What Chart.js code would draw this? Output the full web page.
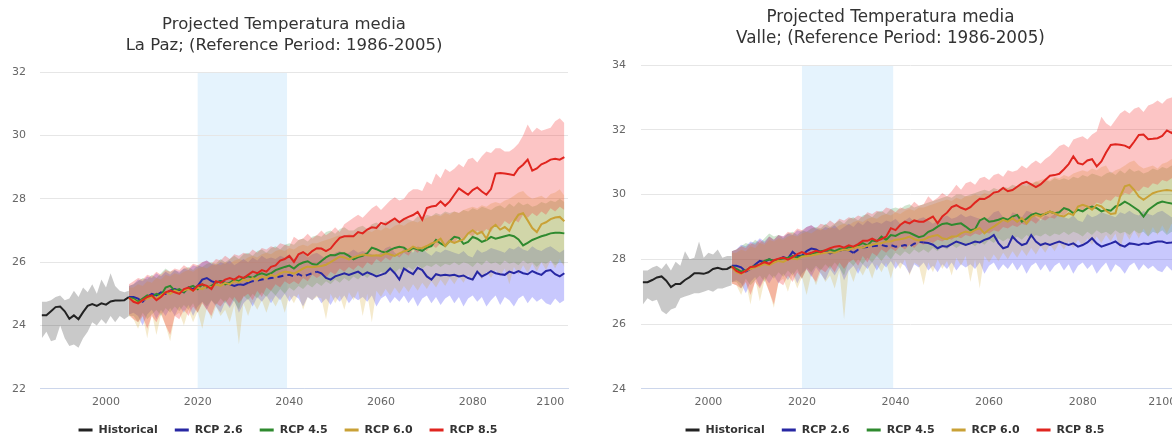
<!DOCTYPE html>
<html lang="es">
<head>
<meta charset="utf-8">
<title>Projected Temperatura media</title>
<script src="https://cdn.jsdelivr.net/npm/chart.js@4.4.1/dist/chart.umd.min.js"></script>
<style>
  html, body { margin: 0; padding: 0; background: #fff; }
  body { width: 1172px; height: 437px; overflow: hidden; position: relative; }
  .panel { position: absolute; top: 0; height: 437px; }
  #panelLaPaz { left: 0; width: 580px; }
  #panelValle { left: 601px; width: 591px; }
</style>
</head>
<body>
<div class="panel" id="panelLaPaz"><canvas id="chartLaPaz" width="580" height="437"></canvas></div>
<div class="panel" id="panelValle"><canvas id="chartValle" width="591" height="437"></canvas></div>
<script>
// ---- Year ranges and axis ticks shared by both charts ----
const HIST_FIRST = 1986, HIST_LAST = 2005;
const RCP_FIRST = 2005, RCP_LAST = 2100;   // projections start from the last observed year
const X_TICKS = [2000, 2020, 2040, 2060, 2080, 2100];
const REFERENCE_WINDOW = [2020, 2039.5];
const SERIES_NAMES = ['Historical', 'RCP 2.6', 'RCP 4.5', 'RCP 6.0', 'RCP 8.5'];

// ---- La Paz (°C) ----
const lpHistMean = [24.32, 24.32, 24.45, 24.58, 24.60, 24.45, 24.21, 24.32, 24.20, 24.42,
                    24.62, 24.68, 24.62, 24.70, 24.66, 24.76, 24.79, 24.79, 24.80, 24.90];
const lpHistHigh = [24.75, 24.75, 24.80, 24.90, 24.95, 24.80, 24.85, 25.10, 24.90, 25.20,
                    25.05, 25.30, 25.00, 25.45, 25.20, 25.65, 25.25, 25.10, 25.05, 25.10];
const lpHistLow  = [23.60, 23.80, 23.50, 23.55, 24.00, 23.60, 23.35, 23.40, 23.30, 23.60,
                    23.80, 24.10, 24.00, 24.20, 24.05, 24.30, 24.10, 24.30, 24.20, 24.30];

const lpRcp26Mean = [24.90,
                     24.90, 24.85, 24.75, 24.90, 25.00, 24.95, 25.05, 25.00, 25.10, 25.15,
                     25.10, 25.05, 25.20, 25.15, 25.25, 25.45, 25.50, 25.40, 25.35, 25.40,
                     25.35, 25.30, 25.25, 25.30, 25.28, 25.35, 25.40, 25.42, 25.45, 25.48,
                     25.50, 25.52, 25.55, 25.58, 25.60, 25.55, 25.62, 25.55, 25.60, 25.65,
                     25.70, 25.65, 25.50, 25.45, 25.55, 25.60, 25.65, 25.60, 25.65, 25.70,
                     25.60, 25.68, 25.62, 25.55, 25.60, 25.65, 25.80, 25.65, 25.45, 25.80,
                     25.70, 25.62, 25.82, 25.75, 25.55, 25.45, 25.62, 25.58, 25.60, 25.58,
                     25.60, 25.55, 25.58, 25.50, 25.45, 25.70, 25.55, 25.62, 25.72, 25.65,
                     25.62, 25.60, 25.70, 25.65, 25.72, 25.65, 25.62, 25.72, 25.65, 25.60,
                     25.72, 25.75, 25.62, 25.55, 25.65];
const lpRcp26High = [25.25,
                     25.30, 25.45, 25.40, 25.55, 25.50, 25.65, 25.55, 25.70, 25.60, 25.75,
                     25.70, 25.80, 25.75, 25.90, 25.85, 26.00, 26.05, 25.95, 25.90, 26.00,
                     25.95, 26.05, 25.90, 26.00, 26.10, 26.00, 26.15, 26.05, 26.20, 26.10,
                     26.15, 26.10, 26.20, 26.15, 26.25, 26.10, 26.20, 26.30, 26.15, 26.25,
                     26.30, 26.20, 26.10, 26.20, 26.30, 26.35, 26.25, 26.30, 26.40, 26.30,
                     26.35, 26.30, 26.25, 26.20, 26.30, 26.45, 26.50, 26.30, 26.20, 26.45,
                     26.40, 26.30, 26.50, 26.45, 26.30, 26.20, 26.35, 26.30, 26.40, 26.35,
                     26.30, 26.25, 26.35, 26.20, 26.15, 26.40, 26.30, 26.35, 26.45, 26.40,
                     26.35, 26.30, 26.45, 26.40, 26.50, 26.40, 26.35, 26.50, 26.40, 26.35,
                     26.45, 26.50, 26.40, 26.30, 26.40];
const lpRcp26Low  = [24.35,
                     24.40, 24.30, 24.00, 24.35, 24.50, 24.20, 24.50, 24.30, 24.55, 24.30,
                     24.60, 24.40, 24.65, 24.30, 24.60, 24.75, 24.50, 24.80, 24.60, 24.40,
                     24.75, 24.55, 24.80, 24.40, 24.70, 24.85, 24.60, 24.90, 24.75, 24.95,
                     24.70, 24.95, 24.80, 25.00, 24.75, 24.95, 24.85, 24.60, 24.90, 24.80,
                     24.95, 24.70, 24.85, 24.65, 24.90, 24.75, 24.95, 24.70, 24.90, 24.80,
                     24.90, 24.75, 24.95, 24.60, 24.85, 24.95, 24.70, 24.90, 24.75, 24.95,
                     24.70, 24.90, 24.60, 24.85, 24.95, 24.70, 24.90, 24.65, 24.85, 24.95,
                     24.70, 24.90, 24.60, 24.85, 24.95, 24.75, 24.90, 24.60, 24.80, 24.95,
                     24.65, 24.90, 24.80, 24.60, 24.85, 24.95, 24.70, 24.90, 24.75, 24.85,
                     24.70, 24.65, 24.85, 24.70, 24.80];

const lpRcp45Mean = [24.88,
                     24.85, 24.75, 24.85, 24.95, 24.90, 25.00, 24.95, 25.20, 25.25, 25.10,
                     25.15, 25.05, 25.20, 25.25, 25.15, 25.30, 25.20, 25.25, 25.35, 25.40,
                     25.30, 25.35, 25.45, 25.40, 25.50, 25.55, 25.50, 25.60, 25.65, 25.60,
                     25.65, 25.75, 25.80, 25.85, 25.89, 25.80, 25.92, 25.99, 26.03, 25.94,
                     25.92, 26.04, 26.15, 26.23, 26.22, 26.28, 26.28, 26.20, 26.09, 26.16,
                     26.20, 26.28, 26.46, 26.41, 26.34, 26.30, 26.39, 26.45, 26.49, 26.46,
                     26.35, 26.45, 26.41, 26.36, 26.46, 26.51, 26.70, 26.59, 26.51, 26.67,
                     26.80, 26.77, 26.58, 26.64, 26.80, 26.74, 26.64, 26.70, 26.80, 26.74,
                     26.78, 26.82, 26.86, 26.82, 26.72, 26.53, 26.61, 26.70, 26.76, 26.82,
                     26.86, 26.91, 26.93, 26.93, 26.91];
const lpRcp45High = [25.25,
                     25.30, 25.40, 25.50, 25.45, 25.60, 25.50, 25.65, 25.80, 25.70, 25.75,
                     25.65, 25.80, 25.85, 25.75, 25.90, 25.85, 25.95, 26.00, 25.95, 26.10,
                     26.00, 26.10, 26.20, 26.10, 26.25, 26.30, 26.20, 26.35, 26.40, 26.30,
                     26.45, 26.50, 26.40, 26.55, 26.60, 26.55, 26.70, 26.75, 26.65, 26.80,
                     26.85, 26.80, 26.95, 27.00, 26.90, 27.05, 27.10, 27.00, 27.00, 27.10,
                     27.15, 27.05, 27.20, 27.25, 27.15, 27.30, 27.25, 27.35, 27.30, 27.40,
                     27.35, 27.30, 27.45, 27.40, 27.50, 27.45, 27.55, 27.50, 27.60, 27.55,
                     27.60, 27.55, 27.65, 27.60, 27.70, 27.65, 27.75, 27.70, 27.65, 27.75,
                     27.80, 27.70, 27.85, 27.75, 27.90, 27.80, 27.85, 27.75, 27.80, 27.90,
                     27.85, 27.95, 27.90, 28.00, 27.90];
const lpRcp45Low  = [24.30,
                     24.30, 24.10, 24.40, 24.20, 24.35, 24.50, 24.30, 24.55, 24.40, 24.60,
                     24.45, 24.65, 24.50, 24.70, 24.40, 24.75, 24.60, 24.80, 24.65, 24.85,
                     24.70, 24.90, 24.75, 24.50, 24.95, 24.80, 25.00, 24.85, 25.05, 24.90,
                     25.10, 24.95, 25.15, 25.00, 25.20, 25.10, 25.25, 25.15, 25.30, 25.20,
                     25.35, 25.25, 25.40, 25.30, 25.45, 25.35, 25.50, 25.40, 25.55, 25.45,
                     25.60, 25.50, 25.65, 25.55, 25.70, 25.60, 25.75, 25.65, 25.80, 25.70,
                     25.85, 25.75, 25.90, 25.80, 25.90, 25.85, 25.95, 25.85, 25.95, 25.90,
                     26.00, 25.90, 26.00, 25.95, 25.85, 26.00, 25.90, 26.05, 25.95, 26.00,
                     25.90, 26.05, 25.95, 26.00, 25.90, 26.05, 25.95, 26.00, 25.85, 26.00,
                     25.95, 26.05, 25.90, 26.00, 25.95];

const lpRcp60Mean = [24.85,
                     24.80, 24.70, 24.80, 24.85, 24.90, 24.85, 24.95, 25.05, 25.00, 25.10,
                     25.05, 25.10, 25.15, 25.10, 25.20, 25.15, 25.25, 25.20, 25.30, 25.25,
                     25.35, 25.30, 25.40, 25.35, 25.45, 25.40, 25.50, 25.45, 25.55, 25.50,
                     25.60, 25.55, 25.65, 25.70, 25.68, 25.64, 25.72, 25.80, 25.86, 25.84,
                     25.86, 25.88, 25.92, 26.00, 26.09, 26.18, 26.15, 26.09, 26.15, 26.20,
                     26.24, 26.22, 26.20, 26.22, 26.20, 26.28, 26.24, 26.20, 26.28, 26.34,
                     26.39, 26.49, 26.43, 26.45, 26.51, 26.59, 26.64, 26.74, 26.51, 26.67,
                     26.61, 26.67, 26.72, 26.91, 27.01, 26.89, 26.96, 26.74, 27.07, 27.18,
                     27.03, 27.11, 26.99, 27.29, 27.50, 27.55, 27.32, 27.08, 26.95, 27.20,
                     27.26, 27.36, 27.41, 27.43, 27.29];
const lpRcp60High = [25.20,
                     25.20, 25.30, 25.25, 25.40, 25.35, 25.50, 25.45, 25.60, 25.55, 25.65,
                     25.60, 25.70, 25.75, 25.70, 25.80, 25.85, 25.80, 25.90, 25.95, 25.90,
                     26.00, 25.95, 26.05, 26.10, 26.05, 26.15, 26.20, 26.15, 26.25, 26.30,
                     26.25, 26.35, 26.40, 26.35, 26.45, 26.40, 26.50, 26.55, 26.50, 26.60,
                     26.60, 26.65, 26.70, 26.75, 26.80, 26.85, 26.80, 26.90, 26.85, 26.95,
                     26.95, 27.00, 26.95, 27.05, 27.00, 27.10, 27.05, 27.15, 27.20, 27.15,
                     27.25, 27.30, 27.25, 27.35, 27.40, 27.45, 27.50, 27.45, 27.55, 27.50,
                     27.60, 27.55, 27.65, 27.70, 27.75, 27.70, 27.80, 27.75, 27.85, 27.90,
                     27.85, 27.95, 28.00, 28.10, 28.20, 28.25, 28.10, 28.00, 28.05, 28.10,
                     28.00, 28.15, 28.20, 28.30, 28.10];
const lpRcp60Low  = [24.30,
                     24.20, 23.90, 24.30, 23.60, 24.40, 23.70, 24.35, 24.00, 23.50, 24.30,
                     24.40, 24.00, 24.50, 24.10, 24.45, 23.90, 24.55, 24.20, 24.60, 24.30,
                     24.50, 24.10, 24.65, 23.40, 24.70, 24.30, 24.75, 24.50, 24.80, 24.40,
                     24.85, 24.60, 24.90, 24.40, 24.95, 24.70, 25.00, 24.50, 24.90, 24.80,
                     24.90, 24.85, 24.20, 25.00, 24.70, 24.95, 24.50, 25.05, 24.80, 25.10,
                     24.30, 25.00, 24.10, 25.10, 24.90, 25.15, 24.95, 25.20, 25.00, 25.25,
                     25.05, 25.30, 25.10, 25.35, 25.15, 25.40, 25.20, 25.45, 25.25, 25.50,
                     25.30, 25.55, 25.35, 25.60, 25.40, 25.65, 25.45, 25.70, 25.50, 25.75,
                     25.55, 25.80, 25.30, 25.85, 25.60, 25.90, 25.65, 25.95, 25.70, 26.00,
                     25.75, 26.05, 25.80, 26.10, 25.85];

const lpRcp85Mean = [24.88,
                     24.75, 24.70, 24.80, 24.90, 24.95, 24.80, 24.90, 25.05, 25.10, 25.05,
                     25.00, 25.15, 25.20, 25.10, 25.25, 25.30, 25.25, 25.15, 25.40, 25.35,
                     25.45, 25.50, 25.45, 25.55, 25.50, 25.60, 25.70, 25.65, 25.75, 25.70,
                     25.85, 25.90, 26.05, 26.10, 26.20, 26.01, 26.25, 26.32, 26.22, 26.35,
                     26.44, 26.43, 26.35, 26.43, 26.61, 26.77, 26.82, 26.82, 26.82, 26.95,
                     26.91, 27.03, 27.10, 27.08, 27.24, 27.19, 27.29, 27.38, 27.26, 27.36,
                     27.43, 27.49, 27.59, 27.34, 27.71, 27.76, 27.78, 27.92, 27.78, 27.92,
                     28.13, 28.33, 28.23, 28.13, 28.28, 28.36, 28.23, 28.13, 28.31, 28.80,
                     28.82, 28.80, 28.78, 28.75, 28.96, 29.08, 29.24, 28.89, 28.96, 29.09,
                     29.15, 29.24, 29.27, 29.24, 29.32];
const lpRcp85High = [25.30,
                     25.40, 25.50, 25.45, 25.60, 25.55, 25.70, 25.60, 25.75, 25.70, 25.80,
                     25.75, 25.90, 25.80, 25.95, 25.90, 26.00, 26.05, 25.95, 26.10, 26.05,
                     26.20, 26.10, 26.25, 26.20, 26.30, 26.25, 26.40, 26.30, 26.45, 26.40,
                     26.50, 26.45, 26.60, 26.55, 26.50, 26.80, 26.70, 26.75, 26.90, 26.75,
                     26.85, 27.00, 26.85, 26.95, 27.10, 26.95, 27.20, 27.30, 27.40, 27.50,
                     27.40, 27.55, 27.70, 27.80, 27.65, 27.80, 27.95, 28.05, 27.95, 28.00,
                     28.20, 28.30, 28.30, 28.25, 28.55, 28.45, 28.80, 28.65, 28.95, 28.85,
                     28.95, 29.10, 29.00, 29.25, 29.30, 29.15, 29.35, 29.50, 29.45, 29.60,
                     29.60, 29.50, 29.50, 29.60, 29.75, 30.00, 30.35, 30.10, 30.25, 30.15,
                     30.20, 30.25, 30.45, 30.55, 30.40];
const lpRcp85Low  = [24.35,
                     24.20, 24.10, 24.30, 23.90, 24.30, 24.10, 24.40, 24.00, 23.70, 24.30,
                     24.20, 24.50, 24.30, 24.60, 24.40, 24.70, 24.50, 24.30, 24.70, 24.60,
                     24.80, 24.60, 24.90, 24.70, 24.90, 25.00, 24.80, 25.10, 24.90, 25.20,
                     25.10, 25.30, 25.20, 25.40, 25.30, 25.40, 25.30, 25.50, 25.40, 25.60,
                     25.50, 25.60, 25.50, 25.70, 25.60, 25.80, 25.70, 25.85, 25.75, 25.90,
                     25.80, 26.00, 25.90, 26.10, 26.00, 26.15, 26.05, 26.25, 26.15, 26.30,
                     26.20, 26.40, 26.30, 26.45, 26.35, 26.55, 26.45, 26.60, 26.50, 26.70,
                     26.60, 26.80, 26.70, 26.90, 26.80, 27.00, 26.90, 27.05, 26.95, 27.20,
                     27.10, 27.30, 27.20, 27.35, 27.25, 27.50, 27.40, 27.55, 27.45, 27.60,
                     27.50, 27.70, 27.60, 27.75, 27.65];

// ---- Valle (°C) ----
const vaHistMean = [27.29, 27.29, 27.36, 27.44, 27.47, 27.34, 27.14, 27.24, 27.24, 27.36,
                    27.45, 27.57, 27.57, 27.55, 27.60, 27.70, 27.74, 27.69, 27.70, 27.78];
const vaHistHigh = [27.65, 27.65, 27.75, 27.80, 27.70, 27.88, 27.65, 27.92, 27.80, 28.25,
                    28.00, 28.05, 28.55, 28.05, 28.20, 28.15, 28.30, 28.05, 28.10, 28.10];
const vaHistLow  = [26.60, 26.80, 26.70, 26.75, 26.40, 26.30, 26.45, 26.50, 26.80, 26.85,
                    26.90, 26.95, 26.95, 27.00, 27.05, 27.00, 27.10, 27.10, 27.15, 27.20];

const vaRcp26Mean = [27.80,
                     27.80, 27.75, 27.62, 27.70, 27.84, 27.95, 27.92, 28.00, 27.95, 28.00,
                     28.07, 28.02, 28.23, 28.10, 28.12, 28.25, 28.33, 28.30, 28.22, 28.26,
                     28.18, 28.24, 28.26, 28.30, 28.28, 28.20, 28.30, 28.36, 28.38, 28.40,
                     28.42, 28.44, 28.40, 28.44, 28.39, 28.40, 28.44, 28.39, 28.48, 28.54,
                     28.52, 28.50, 28.45, 28.34, 28.41, 28.39, 28.47, 28.55, 28.50, 28.44,
                     28.49, 28.55, 28.52, 28.60, 28.65, 28.75, 28.50, 28.34, 28.39, 28.70,
                     28.55, 28.44, 28.49, 28.75, 28.55, 28.44, 28.49, 28.44, 28.50, 28.55,
                     28.49, 28.44, 28.49, 28.39, 28.44, 28.52, 28.65, 28.49, 28.39, 28.44,
                     28.49, 28.55, 28.44, 28.39, 28.49, 28.47, 28.44, 28.49, 28.47, 28.52,
                     28.55, 28.55, 28.50, 28.52, 28.55];
const vaRcp26High = [28.25,
                     28.30, 28.45, 28.40, 28.55, 28.50, 28.65, 28.55, 28.70, 28.60, 28.75,
                     28.70, 28.80, 28.75, 28.90, 28.85, 29.00, 29.05, 28.95, 28.90, 29.00,
                     28.95, 29.05, 28.90, 29.00, 29.10, 29.00, 29.15, 29.05, 29.20, 29.10,
                     29.15, 29.10, 29.20, 29.15, 29.25, 29.10, 29.20, 29.30, 29.15, 29.25,
                     29.30, 29.20, 29.10, 29.20, 29.30, 29.35, 29.25, 29.30, 29.40, 29.30,
                     29.35, 29.30, 29.25, 29.20, 29.30, 29.45, 29.50, 29.30, 29.20, 29.45,
                     29.40, 29.30, 29.50, 29.45, 29.30, 29.20, 29.35, 29.30, 29.40, 29.35,
                     29.30, 29.25, 29.35, 29.20, 29.15, 29.40, 29.30, 29.35, 29.45, 29.40,
                     29.35, 29.30, 29.45, 29.40, 29.50, 29.40, 29.35, 29.50, 29.40, 29.35,
                     29.45, 29.50, 29.40, 29.30, 29.40];
const vaRcp26Low  = [27.30,
                     27.35, 27.25, 26.95, 27.30, 27.45, 27.15, 27.45, 27.25, 27.50, 27.25,
                     27.55, 27.35, 27.60, 27.25, 27.55, 27.70, 27.45, 27.75, 27.55, 27.35,
                     27.70, 27.50, 27.75, 27.35, 27.65, 27.80, 27.55, 27.85, 27.70, 27.90,
                     27.65, 27.90, 27.75, 27.95, 27.70, 27.90, 27.80, 27.55, 27.85, 27.75,
                     27.90, 27.65, 27.80, 27.60, 27.85, 27.70, 27.90, 27.65, 27.85, 27.75,
                     27.85, 27.70, 27.90, 27.55, 27.80, 27.90, 27.65, 27.85, 27.70, 27.90,
                     27.65, 27.85, 27.55, 27.80, 27.90, 27.65, 27.85, 27.60, 27.80, 27.90,
                     27.65, 27.85, 27.55, 27.80, 27.90, 27.70, 27.85, 27.55, 27.75, 27.90,
                     27.60, 27.85, 27.75, 27.55, 27.80, 27.90, 27.65, 27.85, 27.70, 27.80,
                     27.65, 27.60, 27.80, 27.65, 27.75];

const vaRcp45Mean = [27.78,
                     27.70, 27.62, 27.66, 27.74, 27.80, 27.82, 27.95, 28.00, 27.95, 28.00,
                     28.02, 28.05, 28.10, 28.05, 28.10, 28.12, 28.16, 28.20, 28.25, 28.27,
                     28.30, 28.25, 28.32, 28.30, 28.38, 28.36, 28.43, 28.50, 28.43, 28.58,
                     28.55, 28.70, 28.60, 28.75, 28.72, 28.80, 28.84, 28.82, 28.75, 28.68,
                     28.72, 28.85, 28.91, 29.01, 29.09, 29.11, 29.06, 29.09, 29.11, 29.01,
                     28.90, 28.93, 29.20, 29.27, 29.16, 29.18, 29.22, 29.27, 29.22, 29.32,
                     29.37, 29.16, 29.25, 29.37, 29.42, 29.37, 29.40, 29.47, 29.42, 29.45,
                     29.58, 29.53, 29.42, 29.53, 29.48, 29.58, 29.63, 29.58, 29.48, 29.53,
                     29.50, 29.63, 29.68, 29.78, 29.70, 29.60, 29.50, 29.32, 29.52, 29.63,
                     29.73, 29.78, 29.75, 29.72, 29.71];
const vaRcp45High = [28.25,
                     28.30, 28.40, 28.50, 28.45, 28.60, 28.50, 28.65, 28.80, 28.70, 28.75,
                     28.65, 28.80, 28.85, 28.75, 28.90, 28.85, 28.95, 29.00, 28.95, 29.10,
                     29.00, 29.10, 29.20, 29.10, 29.25, 29.30, 29.20, 29.35, 29.40, 29.30,
                     29.45, 29.50, 29.40, 29.55, 29.60, 29.55, 29.65, 29.70, 29.60, 29.65,
                     29.70, 29.75, 29.80, 29.85, 29.90, 29.95, 29.90, 30.00, 30.00, 29.95,
                     30.00, 30.05, 30.10, 30.15, 30.10, 30.20, 30.15, 30.25, 30.20, 30.30,
                     30.25, 30.30, 30.35, 30.30, 30.40, 30.35, 30.45, 30.40, 30.50, 30.45,
                     30.50, 30.45, 30.55, 30.50, 30.60, 30.55, 30.65, 30.60, 30.55, 30.65,
                     30.70, 30.60, 30.75, 30.65, 30.80, 30.70, 30.75, 30.65, 30.70, 30.80,
                     30.75, 30.85, 30.80, 30.90, 30.80];
const vaRcp45Low  = [27.30,
                     27.30, 27.10, 27.40, 27.20, 27.35, 27.50, 27.30, 27.55, 27.40, 27.60,
                     27.45, 27.65, 27.50, 27.70, 27.40, 27.75, 27.60, 27.80, 27.65, 27.85,
                     27.70, 27.90, 27.75, 27.50, 27.95, 27.80, 28.00, 27.85, 28.05, 27.90,
                     28.10, 27.95, 28.15, 28.00, 28.20, 28.10, 28.25, 28.15, 28.30, 28.20,
                     28.30, 28.20, 28.35, 28.25, 28.40, 28.30, 28.45, 28.35, 28.45, 28.40,
                     28.50, 28.40, 28.55, 28.45, 28.60, 28.50, 28.65, 28.55, 28.65, 28.60,
                     28.70, 28.60, 28.75, 28.65, 28.75, 28.70, 28.80, 28.70, 28.80, 28.75,
                     28.85, 28.75, 28.85, 28.80, 28.70, 28.85, 28.75, 28.90, 28.80, 28.85,
                     28.75, 28.90, 28.80, 28.85, 28.75, 28.90, 28.80, 28.85, 28.70, 28.85,
                     28.80, 28.90, 28.75, 28.85, 28.80];

const vaRcp60Mean = [27.75,
                     27.60, 27.55, 27.65, 27.70, 27.75, 27.80, 27.85, 27.82, 27.90, 27.95,
                     27.92, 28.00, 28.02, 28.00, 28.08, 28.10, 28.12, 28.15, 28.18, 28.20,
                     28.22, 28.20, 28.26, 28.30, 28.28, 28.35, 28.38, 28.36, 28.42, 28.45,
                     28.48, 28.50, 28.55, 28.55, 28.60, 28.62, 28.65, 28.70, 28.62, 28.58,
                     28.60, 28.68, 28.72, 28.75, 28.65, 28.62, 28.70, 28.70, 28.80, 28.86,
                     28.82, 28.91, 28.96, 28.80, 28.92, 29.01, 29.11, 29.22, 29.16, 29.27,
                     29.16, 29.27, 29.11, 29.30, 29.37, 29.32, 29.42, 29.47, 29.42, 29.35,
                     29.32, 29.42, 29.37, 29.63, 29.68, 29.63, 29.53, 29.68, 29.63, 29.50,
                     29.40, 29.42, 29.94, 30.25, 30.30, 30.14, 29.94, 29.84, 29.94, 30.04,
                     30.09, 30.12, 30.14, 30.12, 30.09];
const vaRcp60High = [28.20,
                     28.20, 28.30, 28.25, 28.40, 28.35, 28.50, 28.45, 28.60, 28.55, 28.65,
                     28.60, 28.70, 28.75, 28.70, 28.80, 28.85, 28.80, 28.90, 28.95, 28.90,
                     29.00, 28.95, 29.05, 29.10, 29.05, 29.15, 29.20, 29.15, 29.25, 29.30,
                     29.25, 29.35, 29.40, 29.35, 29.45, 29.40, 29.50, 29.55, 29.50, 29.60,
                     29.60, 29.65, 29.70, 29.75, 29.80, 29.85, 29.80, 29.90, 29.85, 29.95,
                     29.95, 30.00, 29.95, 30.05, 30.00, 30.10, 30.05, 30.15, 30.20, 30.15,
                     30.25, 30.30, 30.25, 30.35, 30.40, 30.45, 30.50, 30.45, 30.55, 30.50,
                     30.60, 30.55, 30.65, 30.70, 30.75, 30.70, 30.80, 30.75, 30.85, 30.90,
                     30.65, 30.75, 30.80, 30.90, 31.00, 31.05, 30.90, 30.80, 30.85, 30.90,
                     30.80, 30.95, 31.00, 31.10, 30.90];
const vaRcp60Low  = [27.25,
                     27.20, 26.90, 27.30, 26.60, 27.40, 26.70, 27.35, 27.00, 26.50, 27.30,
                     27.40, 27.00, 27.50, 27.10, 27.45, 26.90, 27.55, 27.20, 27.60, 27.30,
                     27.50, 27.10, 27.65, 26.15, 27.70, 27.30, 27.75, 27.50, 27.80, 27.40,
                     27.85, 27.60, 27.90, 27.40, 27.95, 27.70, 28.00, 27.50, 27.90, 27.80,
                     27.20, 27.90, 27.60, 28.00, 27.70, 27.95, 27.50, 28.05, 27.80, 28.10,
                     27.30, 28.00, 27.10, 28.10, 27.90, 28.15, 27.95, 28.20, 28.00, 28.25,
                     28.05, 28.30, 28.10, 28.35, 28.15, 28.40, 28.20, 28.45, 28.25, 28.50,
                     28.30, 28.55, 28.35, 28.60, 28.40, 28.65, 28.45, 28.70, 28.50, 28.75,
                     28.55, 28.80, 28.30, 28.85, 28.60, 28.90, 28.65, 28.95, 28.70, 29.00,
                     28.75, 29.05, 28.80, 29.10, 28.85];

const vaRcp85Mean = [27.78,
                     27.64, 27.57, 27.64, 27.76, 27.78, 27.84, 27.91, 27.86, 27.97, 28.02,
                     28.05, 27.99, 28.07, 28.16, 28.22, 28.16, 28.20, 28.26, 28.22, 28.28,
                     28.34, 28.39, 28.41, 28.36, 28.43, 28.39, 28.47, 28.57, 28.57, 28.64,
                     28.57, 28.62, 28.70, 28.96, 28.90, 29.06, 29.16, 29.11, 29.20, 29.16,
                     29.16, 29.24, 29.32, 29.11, 29.32, 29.44, 29.61, 29.67, 29.59, 29.53,
                     29.61, 29.75, 29.87, 29.86, 29.94, 30.06, 30.09, 30.20, 30.10, 30.14,
                     30.24, 30.34, 30.39, 30.31, 30.23, 30.31, 30.45, 30.58, 30.60, 30.64,
                     30.78, 30.94, 31.18, 30.97, 30.93, 31.05, 31.09, 30.87, 31.02, 31.30,
                     31.53, 31.55, 31.54, 31.51, 31.44, 31.63, 31.84, 31.85, 31.71, 31.72,
                     31.74, 31.81, 31.98, 31.90, 32.02];
const vaRcp85High = [28.25,
                     28.30, 28.40, 28.35, 28.50, 28.45, 28.60, 28.50, 28.70, 28.60, 28.75,
                     28.70, 28.85, 28.80, 28.95, 28.90, 29.00, 29.05, 28.95, 29.10, 29.05,
                     29.20, 29.10, 29.25, 29.20, 29.30, 29.25, 29.35, 29.30, 29.45, 29.40,
                     29.50, 29.45, 29.60, 29.55, 29.45, 29.60, 29.55, 29.60, 29.78, 29.65,
                     29.70, 29.95, 29.80, 29.90, 30.05, 29.95, 30.10, 30.30, 30.15, 30.35,
                     30.40, 30.30, 30.50, 30.55, 30.45, 30.60, 30.65, 30.55, 30.75, 30.70,
                     30.75, 30.90, 30.80, 30.95, 31.05, 30.95, 31.10, 31.20, 31.35, 31.50,
                     31.55, 31.45, 31.70, 31.75, 31.80, 31.70, 31.85, 31.95, 32.40, 32.20,
                     32.10, 32.30, 32.50, 32.60, 32.50, 32.65, 32.70, 32.55, 32.75, 32.80,
                     32.90, 32.80, 32.95, 33.00, 33.05];
const vaRcp85Low  = [27.25,
                     27.20, 27.10, 27.30, 26.90, 27.30, 27.10, 27.40, 27.00, 26.60, 27.30,
                     27.20, 27.50, 27.30, 27.60, 27.40, 27.70, 27.50, 27.30, 27.70, 27.60,
                     27.80, 27.60, 27.90, 27.70, 27.90, 28.00, 27.80, 28.10, 27.90, 28.20,
                     28.10, 28.30, 28.20, 28.35, 28.25, 28.40, 28.30, 28.45, 28.35, 28.50,
                     28.45, 28.55, 28.50, 28.60, 28.55, 28.65, 28.60, 28.70, 28.65, 28.75,
                     28.70, 28.80, 28.75, 28.85, 28.80, 28.90, 28.85, 29.00, 28.95, 29.05,
                     29.00, 29.10, 29.05, 29.20, 29.10, 29.25, 29.20, 29.30, 29.25, 29.40,
                     29.35, 29.50, 29.45, 29.60, 29.50, 29.65, 29.60, 29.75, 29.70, 29.85,
                     29.80, 29.95, 29.90, 30.05, 30.00, 30.15, 30.10, 30.25, 30.20, 30.35,
                     30.30, 30.45, 30.40, 30.50, 30.45];

// ---- Styling ----
const LINE_COLORS = ['#222222', '#2727a3', '#2f8a2f', '#c9a136', '#e0251f'];
const BAND_COLORS = ['rgba(0,0,0,0.21)', 'rgba(95,95,250,0.34)', 'rgba(40,135,40,0.22)',
                     'rgba(215,168,45,0.24)', 'rgba(245,45,45,0.28)'];
const FONT = "'DejaVu Sans', Verdana, sans-serif";

function yearRange(first, last) {
  const out = [];
  for (let y = first; y <= last; y++) out.push(y);
  return out;
}
const HIST_YEARS = yearRange(HIST_FIRST, HIST_LAST);
const RCP_YEARS = yearRange(RCP_FIRST, RCP_LAST);

function points(years, values) {
  return years.map((x, i) => ({ x, y: values[i] }));
}

// Light-blue column marking the 2020-2039 window, painted under the grid.
const windowShade = {
  id: 'windowShade',
  beforeDraw(chart) {
    const { ctx, chartArea, scales } = chart;
    const x0 = scales.x.getPixelForValue(REFERENCE_WINDOW[0]);
    const x1 = scales.x.getPixelForValue(REFERENCE_WINDOW[1]);
    ctx.save();
    ctx.fillStyle = '#e5f3fd';
    ctx.fillRect(x0, chartArea.top, x1 - x0, chartArea.bottom - chartArea.top);
    ctx.restore();
  }
};

// Single-row legend under the axis: short coloured line + bold series name.
const legendRow = {
  id: 'legendRow',
  afterDraw(chart, args, opts) {
    const ctx = chart.ctx;
    ctx.save();
    ctx.font = 'bold ' + opts.size + 'px ' + FONT;
    const sym = 14, gapSym = 6, gapItem = 17;
    const widths = SERIES_NAMES.map(n => ctx.measureText(n).width);
    const total = widths.reduce((a, w) => a + sym + gapSym + w, 0) + gapItem * (SERIES_NAMES.length - 1);
    let x = opts.centerX - total / 2;
    const y = opts.y;
    SERIES_NAMES.forEach((name, k) => {
      ctx.strokeStyle = LINE_COLORS[k];
      ctx.lineWidth = 3;
      ctx.beginPath();
      ctx.moveTo(x, y);
      ctx.lineTo(x + sym, y);
      ctx.stroke();
      ctx.fillStyle = '#333333';
      ctx.textAlign = 'left';
      ctx.textBaseline = 'middle';
      ctx.fillText(name, x + sym + gapSym, y + 0.5);
      x += sym + gapSym + widths[k] + gapItem;
    });
    ctx.restore();
  }
};

function buildChart(canvasId, place, yMin, yMax, series, look) {
  const datasets = [];
  // Ranges first (drawn underneath), each as a low edge plus a high edge filled down to it.
  series.forEach((s, k) => {
    const years = k === 0 ? HIST_YEARS : RCP_YEARS;
    datasets.push({
      label: SERIES_NAMES[k] + ' low', data: points(years, s.low),
      borderWidth: 0, borderColor: 'transparent', pointRadius: 0, fill: false, order: 20 - k
    });
    datasets.push({
      label: SERIES_NAMES[k] + ' high', data: points(years, s.high),
      borderWidth: 0, borderColor: 'transparent', pointRadius: 0,
      fill: '-1', backgroundColor: BAND_COLORS[k], order: 20 - k
    });
  });
  // Mean lines on top.
  series.forEach((s, k) => {
    const years = k === 0 ? HIST_YEARS : RCP_YEARS;
    const ds = {
      label: SERIES_NAMES[k], data: points(years, s.mean),
      borderColor: LINE_COLORS[k], borderWidth: 2, pointRadius: 0,
      fill: false, tension: 0, order: 10 - k
    };
    if (k === 1) {
      ds.segment = {
        borderDash: c => (c.p0.parsed.x >= 2031 && c.p1.parsed.x <= 2046) ? [6, 4] : undefined
      };
    }
    datasets.push(ds);
  });

  return new Chart(document.getElementById(canvasId), {
    type: 'line',
    data: { datasets },
    plugins: [windowShade, legendRow],
    options: {
      responsive: false,
      animation: false,
      events: [],
      layout: { padding: { left: 0, right: 12, top: 0, bottom: 21 } },
      plugins: {
        title: {
          display: true,
          text: ['Projected Temperatura media', place + '; (Reference Period: 1986-2005)'],
          color: '#333333',
          font: { family: FONT, size: look.titleSize, weight: 'normal', lineHeight: look.titleLine },
          padding: { top: look.titleTop, bottom: look.titleBottom }
        },
        legend: { display: false },
        tooltip: { enabled: false },
        legendRow: { y: 430, centerX: look.legendCenter, size: 11 }
      },
      scales: {
        x: {
          type: 'linear',
          min: 1985.6,
          max: 2100.8,
          grid: { display: false, drawTicks: false },
          border: { color: '#ccd6eb' },
          afterBuildTicks: axis => {
            axis.ticks = [{ value: HIST_FIRST }].concat(X_TICKS.map(v => ({ value: v })));
          },
          ticks: {
            autoSkip: false, maxRotation: 0, padding: 7, align: 'inner',
            color: '#666666', font: { family: FONT, size: 11 },
            callback: v => (X_TICKS.includes(v) ? String(v) : '')
          }
        },
        y: {
          min: yMin,
          max: yMax,
          grid: { color: '#e6e6e6', drawTicks: false },
          border: { display: false },
          afterFit: axis => { axis.width = 40; },
          ticks: {
            stepSize: 2, padding: look.yPad,
            color: '#666666', font: { family: FONT, size: 11 },
            callback: v => String(v)
          }
        }
      }
    }
  });
}

buildChart('chartLaPaz', 'La Paz', 22, 32, [
  { mean: lpHistMean,  low: lpHistLow,  high: lpHistHigh },
  { mean: lpRcp26Mean, low: lpRcp26Low, high: lpRcp26High },
  { mean: lpRcp45Mean, low: lpRcp45Low, high: lpRcp45High },
  { mean: lpRcp60Mean, low: lpRcp60Low, high: lpRcp60High },
  { mean: lpRcp85Mean, low: lpRcp85Low, high: lpRcp85High }
], { titleSize: 16.5, titleLine: 1.28, titleTop: 14, titleBottom: 16, legendCenter: 288, yPad: 14 });

buildChart('chartValle', 'Valle', 24, 34, [
  { mean: vaHistMean,  low: vaHistLow,  high: vaHistHigh },
  { mean: vaRcp26Mean, low: vaRcp26Low, high: vaRcp26High },
  { mean: vaRcp45Mean, low: vaRcp45Low, high: vaRcp45High },
  { mean: vaRcp60Mean, low: vaRcp60Low, high: vaRcp60High },
  { mean: vaRcp85Mean, low: vaRcp85Low, high: vaRcp85High }
], { titleSize: 16.8, titleLine: 1.25, titleTop: 7.5, titleBottom: 15.5, legendCenter: 294, yPad: 15 });
</script>
</body>
</html>
